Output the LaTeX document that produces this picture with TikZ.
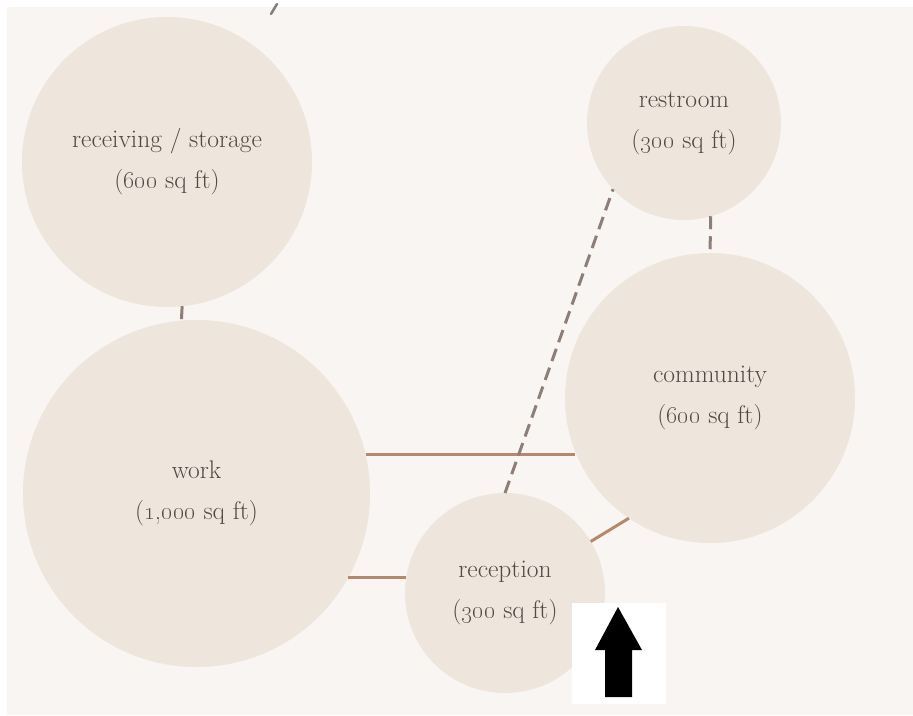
\documentclass[tikz,border=0pt]{standalone}
\definecolor{bgc}{HTML}{F9F5F2}
\definecolor{roomc}{HTML}{EEE5DC}
\definecolor{txtc}{HTML}{514944}
\definecolor{solidc}{HTML}{B38A70}
\definecolor{dashc}{HTML}{8D7F78}
\begin{document}
\begin{tikzpicture}[x=1pt,y=-1pt,
  room/.style={circle,fill=roomc,draw=none,inner sep=0pt,outer sep=0pt,align=center,text=txtc,
    font=\fontsize{25.5}{41}\selectfont},
  link/.style={draw=solidc,line width=3pt},
  dlink/.style={draw=dashc,line width=3pt,dash pattern=on 13pt off 7pt}]
\useasboundingbox (0,0) rectangle (913,715);
\fill[white] (0,0) rectangle (913,715);
\fill[bgc] (7,7) rectangle (913,715);
% fragment of cut-off title
\draw[line width=2.5pt,color=gray,line cap=round] (277,4) -- (271,14);
% rooms
\node[room,minimum size=290pt] (recv) at (167,162) {receiving / storage\\(\oldstylenums{600} sq ft)};
\node[room,minimum size=347pt] (work) at (196.5,493.5) {work\\(\oldstylenums{1,000} sq ft)};
\node[room,minimum size=194pt] (rest) at (684,123) {restroom\\(\oldstylenums{300} sq ft)};
\node[room,minimum size=290pt] (comm) at (710,398) {community\\(\oldstylenums{600} sq ft)};
\node[room,minimum size=200pt] (recep) at (505,593) {reception\\(\oldstylenums{300} sq ft)};
% connectors
\draw[dlink] (recv.-84.9) -- (work.95.5);
\draw[dlink] (rest.-74.5) -- (comm.90);
\draw[link] (work.13.8) -- (work.13.8 -| comm.201.9);
\draw[link] (work.-29.9) -- (work.-29.9 -| recep.172.5);
\draw[link] (recep.31.5) -- (comm.236.5);
\draw[dlink] (recep.90) -- (rest.223);
% entry arrow
\fill[white] (572,603) rectangle (666,704);
\fill[black] (618,607) -- (642,650) -- (632,650) -- (632,697) -- (605,697) -- (605,650) -- (595,650) -- cycle;
\end{tikzpicture}
\end{document}
